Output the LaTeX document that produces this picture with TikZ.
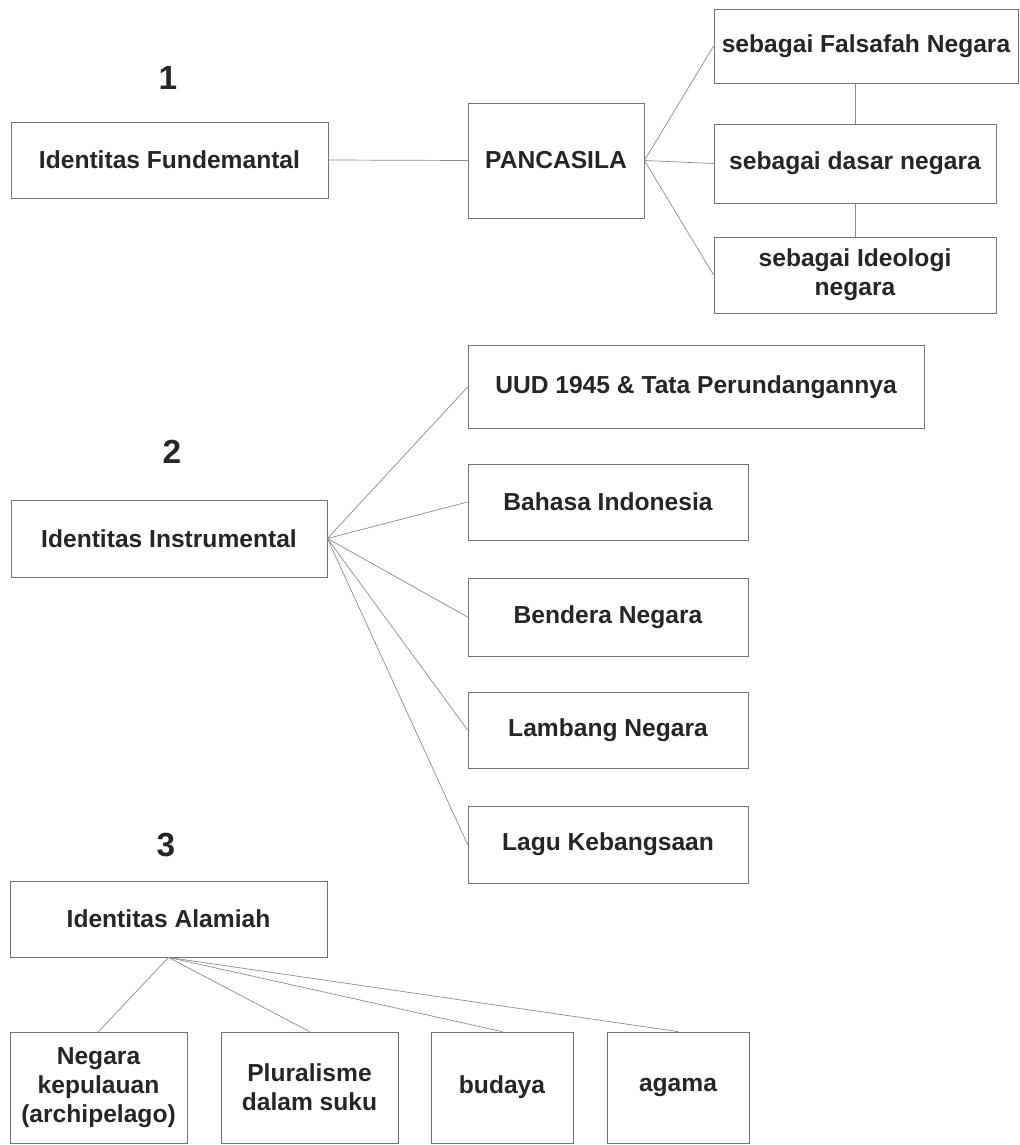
\documentclass[tikz,border=0pt]{standalone}
\usepackage{fontspec}
\setmainfont{Liberation Sans}

\begin{document}
\begin{tikzpicture}[x=0.02cm, y=-0.02cm,
  kotak/.style={draw=black!55, line width=0.5pt, align=center, inner sep=0pt,
    text=black!85, font=\bfseries\fontsize{14}{16.5}\selectfont},
  garis/.style={draw=black!45, line width=0.4pt},
  nomor/.style={text=black!85, font=\bfseries\fontsize{19}{19}\selectfont}]

\useasboundingbox (0,0) rectangle (1020,1145);

% Identitas Fundamental
\node[nomor] (n1) at (168,78) {1};
\node[kotak, minimum width=6.34cm, minimum height=1.52cm] (fund) at (169.5,160) {Identitas Fundemantal};
\node[kotak, minimum width=3.52cm, minimum height=2.30cm] (panc) at (556,160.5) {PANCASILA};
\node[kotak, minimum width=6.08cm, minimum height=1.48cm] (fals) at (866,46) {sebagai Falsafah Negara};
\node[kotak, minimum width=5.64cm, minimum height=1.58cm] (dasar) at (855,163.5) {sebagai dasar negara};
\node[kotak, minimum width=5.64cm, minimum height=1.52cm] (ideo) at (855,275) {sebagai Ideologi\\negara};
\draw[garis] (fund.east) -- (panc.west);
\draw[garis] (panc.east) -- (fals.west);
\draw[garis] (panc.east) -- (dasar.west);
\draw[garis] (panc.east) -- (ideo.west);
\draw[garis] (dasar.north) -- (dasar.north |- fals.south);
\draw[garis] (dasar.south) -- (ideo.north);

% Identitas Instrumental
\node[nomor] (n2) at (172,452) {2};
\node[kotak, minimum width=6.32cm, minimum height=1.54cm] (instr) at (169,538.5) {Identitas Instrumental};
\node[kotak, minimum width=9.12cm, minimum height=1.66cm] (uud) at (696,387) {UUD 1945 \& Tata Perundangannya};
\node[kotak, minimum width=5.60cm, minimum height=1.52cm] (bahasa) at (608,502) {Bahasa Indonesia};
\node[kotak, minimum width=5.60cm, minimum height=1.56cm] (bendera) at (608,617) {Bendera Negara};
\node[kotak, minimum width=5.60cm, minimum height=1.52cm] (lambang) at (608,730) {Lambang Negara};
\node[kotak, minimum width=5.60cm, minimum height=1.54cm] (lagu) at (608,844.5) {Lagu Kebangsaan};
\foreach \anak in {uud,bahasa,bendera,lambang,lagu}
  \draw[garis] (instr.east) -- (\anak.west);

% Identitas Alamiah
\node[nomor] (n3) at (166,845) {3};
\node[kotak, minimum width=6.34cm, minimum height=1.52cm] (alam) at (168.5,919) {Identitas Alamiah};
\node[kotak, minimum width=3.54cm, minimum height=2.22cm] (negara) at (98.5,1087.5) {Negara\\kepulauan\\(archipelago)};
\node[kotak, minimum width=3.54cm, minimum height=2.22cm] (plural) at (309.5,1087.5) {Pluralisme\\dalam suku};
\node[kotak, minimum width=2.84cm, minimum height=2.22cm] (budaya) at (502,1087.5) {budaya};
\node[kotak, minimum width=2.84cm, minimum height=2.22cm] (agama) at (678,1087.5) {agama};
\foreach \anak in {negara,plural,budaya,agama}
  \draw[garis] (alam.south) -- (\anak.north);

\end{tikzpicture}
\end{document}
